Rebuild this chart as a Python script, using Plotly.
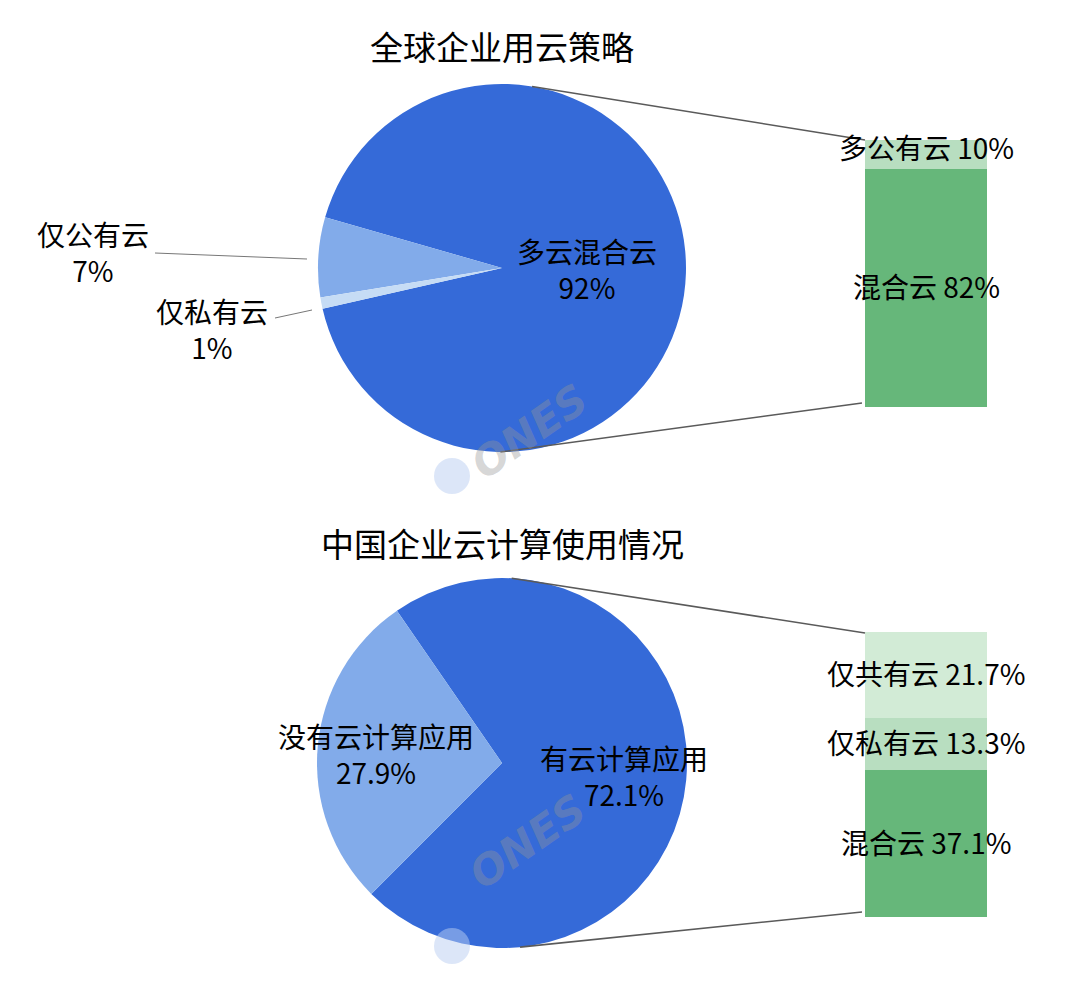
import math
import plotly.graph_objects as go

# ---------------- data ----------------
top_title = "全球企业用云策略"
top_pie_labels = ["多云混合云", "仅公有云", "仅私有云"]
top_pie_values = [92, 7, 1]
top_bar_labels = ["混合云", "多公有云"]
top_bar_values = [82, 10]

bot_title = "中国企业云计算使用情况"
bot_pie_labels = ["有云计算应用", "没有云计算应用"]
bot_pie_values = [72.1, 27.9]
bot_bar_labels = ["混合云", "仅私有云", "仅共有云"]
bot_bar_values = [37.1, 13.3, 21.7]

# ---------------- style ----------------
W, H = 1080, 989
OFF = 8          # default body margin of the html page
TXT = -2         # vertical optical correction for CJK text boxes
FONT = "Noto Sans CJK SC"
BLUE = "#356AD8"
LBLUE = "#82ABEA"
LLBLUE = "#C6DCF5"
GREEN = "#66B77A"
LGREEN = "#B8DEC0"
LLGREEN = "#D2EBD6"
LINE = "#5a5a5a"


def px(x):
    return (x - OFF) / W


def py(y):
    return 1 - (y - OFF) / H


fig = go.Figure()

# pies (pixel geometry)
top_pie = dict(cx=502, cy=268, r=184)
bot_pie = dict(cx=502, cy=763, r=185)


def pie_domain(p):
    return dict(x=[px(p["cx"] - p["r"]), px(p["cx"] + p["r"])],
                y=[py(p["cy"] + p["r"]), py(p["cy"] - p["r"])])


fig.add_trace(go.Pie(
    labels=top_pie_labels, values=top_pie_values, sort=False,
    direction="counterclockwise", rotation=286,
    marker=dict(colors=[BLUE, LBLUE, LLBLUE], line=dict(width=0)),
    textinfo="none", hoverinfo="label+percent", showlegend=False,
    domain=pie_domain(top_pie)))

fig.add_trace(go.Pie(
    labels=bot_pie_labels, values=bot_pie_values, sort=False,
    direction="counterclockwise", rotation=325.4,
    marker=dict(colors=[BLUE, LBLUE], line=dict(width=0)),
    textinfo="none", hoverinfo="label+percent", showlegend=False,
    domain=pie_domain(bot_pie)))

# bars
top_colors = [GREEN, LGREEN]
for lab, v, c in zip(top_bar_labels, top_bar_values, top_colors):
    fig.add_trace(go.Bar(x=[0], y=[v], name=lab, marker=dict(color=c, line=dict(width=0)),
                         width=1, xaxis="x", yaxis="y", showlegend=False))
bot_colors = [GREEN, LGREEN, LLGREEN]
for lab, v, c in zip(bot_bar_labels, bot_bar_values, bot_colors):
    fig.add_trace(go.Bar(x=[0], y=[v], name=lab, marker=dict(color=c, line=dict(width=0)),
                         width=1, xaxis="x2", yaxis="y2", showlegend=False))

bar_x0, bar_x1 = 865, 987
top_bar_y = (140, 407)
bot_bar_y = (632, 917)

ax = dict(visible=False, range=[-0.5, 0.5], fixedrange=True)
fig.update_layout(
    xaxis=dict(ax, domain=[px(bar_x0), px(bar_x1)]),
    yaxis=dict(visible=False, domain=[py(top_bar_y[1]), py(top_bar_y[0])],
               range=[0, sum(top_bar_values)]),
    xaxis2=dict(ax, domain=[px(bar_x0), px(bar_x1)], anchor="y2"),
    yaxis2=dict(visible=False, domain=[py(bot_bar_y[1]), py(bot_bar_y[0])],
                range=[0, sum(bot_bar_values)], anchor="x2"),
    barmode="stack", bargap=0,
)

# connector lines
shapes = []


def pie_pt(p, ang):
    a = math.radians(ang)
    return p["cx"] + p["r"] * math.sin(a), p["cy"] - p["r"] * math.cos(a)


def seg(p0, p1, color=LINE, width=1.6):
    shapes.append(dict(type="line", xref="paper", yref="paper",
                       x0=px(p0[0]), y0=py(p0[1]), x1=px(p1[0]), y1=py(p1[1]),
                       line=dict(color=color, width=width)))


seg(pie_pt(top_pie, 9.4), (bar_x0, top_bar_y[0]))
seg(pie_pt(top_pie, 180.5), (bar_x0 - 3, top_bar_y[1] - 4))
seg(pie_pt(bot_pie, 3.0), (bar_x0, bot_bar_y[0] + 1))
seg(pie_pt(bot_pie, 174.4), (bar_x0 - 3, bot_bar_y[1] - 5))
# leader lines for small slices
seg((155, 253), (307, 259), color="#777", width=1)
seg((275, 318), (312, 310), color="#777", width=1)

# watermark logo circles
for cy in (476, 946):
    shapes.append(dict(type="circle", xref="paper", yref="paper",
                       x0=px(434), x1=px(470), y0=py(cy + 18), y1=py(cy - 18),
                       fillcolor="rgba(185,205,242,0.5)", line=dict(width=0), layer="above"))

fig.update_layout(shapes=shapes)

ann = []


def text(x, y, t, size=28, xref="paper", yref="paper", yshift=TXT):
    ann.append(dict(x=x, y=y, xref=xref, yref=yref, text=t, showarrow=False,
                    font=dict(family=FONT, size=size, color="#000"),
                    xanchor="center", yanchor="middle", align="center", yshift=-yshift))


text(px(502), py(48), top_title, size=33)
text(px(502), py(545), bot_title, size=33)


def pct(v):
    return f"{v:g}%"


# pie labels
text(px(587), py(271), f"{top_pie_labels[0]}<br>{pct(top_pie_values[0])}")
text(px(93), py(254), f"{top_pie_labels[1]}<br>{pct(top_pie_values[1])}")
text(px(212), py(331), f"{top_pie_labels[2]}<br>{pct(top_pie_values[2])}")
text(px(624), py(778), f"{bot_pie_labels[0]}<br>{pct(bot_pie_values[0])}")
text(px(376), py(756), f"{bot_pie_labels[1]}<br>{pct(bot_pie_values[1])}")

# bar labels
cum = 0
for lab, v in zip(top_bar_labels, top_bar_values):
    mid = cum + v / 2
    if v < 15:
        mid = cum + v * 0.7
    text(0, mid, f"{lab} {pct(v)}", xref="x", yref="y")
    cum += v
cum = 0
for lab, v in zip(bot_bar_labels, bot_bar_values):
    text(0, cum + v / 2, f"{lab} {pct(v)}", xref="x2", yref="y2")
    cum += v

# watermark text
for (x, y) in ((530, 432), (528, 902)):
    ann.append(dict(x=px(x), y=py(y), xref="paper", yref="paper", text="<b><i>ONES</i></b>",
                    showarrow=False, textangle=-35,
                    font=dict(family="DejaVu Sans", size=42, color="rgba(150,150,150,0.4)")))

fig.update_layout(
    annotations=ann,
    width=W, height=H,
    margin=dict(l=0, r=0, t=0, b=0),
    paper_bgcolor="white", plot_bgcolor="white",
    font=dict(family=FONT),
)

fig.write_html("out.html")
